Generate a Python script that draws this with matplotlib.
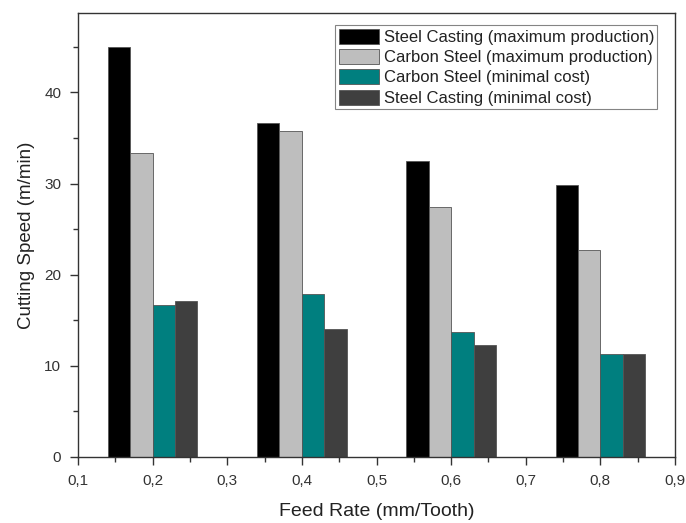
import matplotlib
matplotlib.use("Agg")
import matplotlib.pyplot as plt
import numpy as np
from matplotlib.ticker import MultipleLocator, FuncFormatter

plt.rcParams['font.family'] = ['Liberation Sans', 'DejaVu Sans']

feed_rates = [0.2, 0.4, 0.6, 0.8]
series_labels = [
    "Steel Casting (maximum production)",
    "Carbon Steel (maximum production)",
    "Carbon Steel (minimal cost)",
    "Steel Casting (minimal cost)",
]
steel_casting_max = [45.0, 36.6, 32.5, 29.8]
carbon_steel_max = [33.3, 35.8, 27.4, 22.7]
carbon_steel_min_cost = [16.7, 17.9, 13.7, 11.25]
steel_casting_min_cost = [17.1, 14.0, 12.3, 11.25]

colors = ["#000000", "#bebebe", "#007f7f", "#3f3f3f"]
series = [steel_casting_max, carbon_steel_max, carbon_steel_min_cost, steel_casting_min_cost]

fig = plt.figure(figsize=(6.86, 5.23), dpi=100)
ax = fig.add_axes([0.1137, 0.1262, 0.984 - 0.1137, 0.975 - 0.1262])

width = 0.03
x = np.array(feed_rates)
for i, (vals, col, lab) in enumerate(zip(series, colors, series_labels)):
    ax.bar(x + (i - 1.5) * width, vals, width=width, color=col,
           edgecolor="#555555", linewidth=0.6, label=lab)

ax.set_xlim(0.1, 0.9)
ax.set_ylim(0, 48.7)
ax.xaxis.set_major_locator(MultipleLocator(0.1))
ax.xaxis.set_minor_locator(MultipleLocator(0.05))
ax.yaxis.set_major_locator(MultipleLocator(10))
ax.yaxis.set_minor_locator(MultipleLocator(5))
ax.xaxis.set_major_formatter(FuncFormatter(lambda v, p: f"{v:.1f}".replace(".", ",")))

ax.tick_params(axis="both", which="major", direction="out", length=6, width=1,
               labelsize=11, labelcolor="#333333", color="#333333", pad=6)
ax.tick_params(axis="both", which="minor", direction="out", length=3.5, width=1,
               color="#333333")
for sp in ax.spines.values():
    sp.set_color("#333333")
    sp.set_linewidth(1.0)

ax.set_xlabel("Feed Rate (mm/Tooth)", fontsize=14, color="#222222", labelpad=11)
ax.set_ylabel("Cutting Speed (m/min)", fontsize=13.5, color="#222222", labelpad=7)

leg = ax.legend(loc="upper right", bbox_to_anchor=(0.976, 0.98), fontsize=12,
                frameon=True, fancybox=False, edgecolor="#666666",
                handlelength=2.4, handleheight=1.0, handletextpad=0.3,
                labelspacing=0.25, borderpad=0.2, borderaxespad=0.2)
leg.get_frame().set_linewidth(0.8)
for t in leg.get_texts():
    t.set_color("#222222")

fig.savefig("out.png", dpi=100)
